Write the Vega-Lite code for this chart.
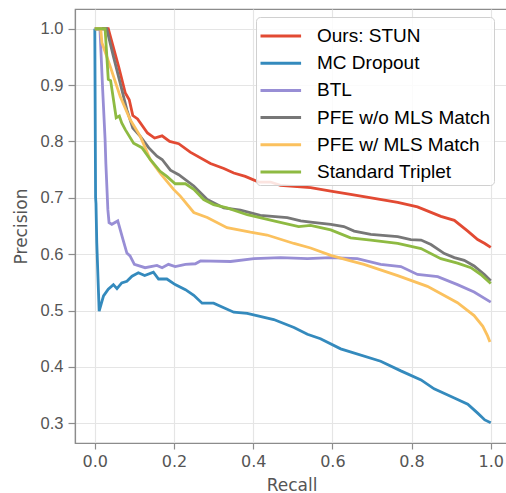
{
  "$schema": "https://vega.github.io/schema/vega-lite/v6.json",
  "autosize": {"type": "none"},
  "padding": {"left": 75, "top": 9, "right": 0, "bottom": 50},
  "width": 433,
  "height": 434,
  "background": "white",
  "config": {
    "view": {"stroke": "#8c8c8c", "strokeWidth": 1.2},
    "axis": {
      "gridColor": "#e5e5e5", "gridWidth": 1.2,
      "domainColor": "#8c8c8c", "domainWidth": 1.2,
      "tickColor": "#8c8c8c", "tickSize": 6, "tickWidth": 1.2,
      "labelColor": "#555555", "titleColor": "#555555",
      "titleFontWeight": "normal"
    }
  },
  "data": {"values": [
    {"s":"Ours: STUN","r":0,"p":1.0},{"s":"Ours: STUN","r":0.034,"p":1.0},{"s":"Ours: STUN","r":0.060,"p":0.933},{"s":"Ours: STUN","r":0.077,"p":0.886},{"s":"Ours: STUN","r":0.087,"p":0.874},{"s":"Ours: STUN","r":0.096,"p":0.846},{"s":"Ours: STUN","r":0.108,"p":0.840},{"s":"Ours: STUN","r":0.133,"p":0.815},{"s":"Ours: STUN","r":0.151,"p":0.806},{"s":"Ours: STUN","r":0.170,"p":0.810},{"s":"Ours: STUN","r":0.189,"p":0.800},{"s":"Ours: STUN","r":0.212,"p":0.796},{"s":"Ours: STUN","r":0.241,"p":0.781},{"s":"Ours: STUN","r":0.292,"p":0.761},{"s":"Ours: STUN","r":0.326,"p":0.752},{"s":"Ours: STUN","r":0.351,"p":0.744},{"s":"Ours: STUN","r":0.380,"p":0.738},{"s":"Ours: STUN","r":0.414,"p":0.728},{"s":"Ours: STUN","r":0.444,"p":0.728},{"s":"Ours: STUN","r":0.469,"p":0.722},{"s":"Ours: STUN","r":0.545,"p":0.718},{"s":"Ours: STUN","r":0.596,"p":0.712},{"s":"Ours: STUN","r":0.646,"p":0.706},{"s":"Ours: STUN","r":0.765,"p":0.692},{"s":"Ours: STUN","r":0.815,"p":0.684},{"s":"Ours: STUN","r":0.874,"p":0.667},{"s":"Ours: STUN","r":0.908,"p":0.660},{"s":"Ours: STUN","r":0.942,"p":0.641},{"s":"Ours: STUN","r":0.967,"p":0.626},{"s":"Ours: STUN","r":0.985,"p":0.619},{"s":"Ours: STUN","r":1.0,"p":0.612},
    {"s":"MC Dropout","r":0,"p":1.0},{"s":"MC Dropout","r":0.002,"p":0.70},{"s":"MC Dropout","r":0.003,"p":0.69},{"s":"MC Dropout","r":0.005,"p":0.62},{"s":"MC Dropout","r":0.011,"p":0.499},{"s":"MC Dropout","r":0.022,"p":0.526},{"s":"MC Dropout","r":0.034,"p":0.538},{"s":"MC Dropout","r":0.047,"p":0.546},{"s":"MC Dropout","r":0.056,"p":0.539},{"s":"MC Dropout","r":0.068,"p":0.549},{"s":"MC Dropout","r":0.081,"p":0.552},{"s":"MC Dropout","r":0.094,"p":0.561},{"s":"MC Dropout","r":0.110,"p":0.567},{"s":"MC Dropout","r":0.126,"p":0.562},{"s":"MC Dropout","r":0.148,"p":0.568},{"s":"MC Dropout","r":0.161,"p":0.556},{"s":"MC Dropout","r":0.182,"p":0.556},{"s":"MC Dropout","r":0.203,"p":0.546},{"s":"MC Dropout","r":0.229,"p":0.537},{"s":"MC Dropout","r":0.250,"p":0.527},{"s":"MC Dropout","r":0.271,"p":0.513},{"s":"MC Dropout","r":0.300,"p":0.513},{"s":"MC Dropout","r":0.351,"p":0.497},{"s":"MC Dropout","r":0.385,"p":0.495},{"s":"MC Dropout","r":0.452,"p":0.484},{"s":"MC Dropout","r":0.503,"p":0.470},{"s":"MC Dropout","r":0.537,"p":0.458},{"s":"MC Dropout","r":0.570,"p":0.450},{"s":"MC Dropout","r":0.621,"p":0.432},{"s":"MC Dropout","r":0.722,"p":0.410},{"s":"MC Dropout","r":0.773,"p":0.393},{"s":"MC Dropout","r":0.824,"p":0.377},{"s":"MC Dropout","r":0.857,"p":0.361},{"s":"MC Dropout","r":0.908,"p":0.345},{"s":"MC Dropout","r":0.942,"p":0.334},{"s":"MC Dropout","r":0.967,"p":0.318},{"s":"MC Dropout","r":0.985,"p":0.306},{"s":"MC Dropout","r":1.0,"p":0.301},
    {"s":"BTL","r":0,"p":1.0},{"s":"BTL","r":0.013,"p":1.0},{"s":"BTL","r":0.020,"p":0.89},{"s":"BTL","r":0.026,"p":0.803},{"s":"BTL","r":0.028,"p":0.76},{"s":"BTL","r":0.033,"p":0.679},{"s":"BTL","r":0.036,"p":0.656},{"s":"BTL","r":0.043,"p":0.653},{"s":"BTL","r":0.058,"p":0.659},{"s":"BTL","r":0.070,"p":0.629},{"s":"BTL","r":0.081,"p":0.602},{"s":"BTL","r":0.089,"p":0.597},{"s":"BTL","r":0.100,"p":0.582},{"s":"BTL","r":0.127,"p":0.576},{"s":"BTL","r":0.157,"p":0.580},{"s":"BTL","r":0.170,"p":0.576},{"s":"BTL","r":0.186,"p":0.582},{"s":"BTL","r":0.203,"p":0.578},{"s":"BTL","r":0.229,"p":0.582},{"s":"BTL","r":0.254,"p":0.583},{"s":"BTL","r":0.267,"p":0.588},{"s":"BTL","r":0.343,"p":0.587},{"s":"BTL","r":0.402,"p":0.592},{"s":"BTL","r":0.469,"p":0.594},{"s":"BTL","r":0.537,"p":0.592},{"s":"BTL","r":0.596,"p":0.594},{"s":"BTL","r":0.663,"p":0.592},{"s":"BTL","r":0.722,"p":0.582},{"s":"BTL","r":0.773,"p":0.578},{"s":"BTL","r":0.815,"p":0.564},{"s":"BTL","r":0.866,"p":0.560},{"s":"BTL","r":0.916,"p":0.546},{"s":"BTL","r":0.958,"p":0.533},{"s":"BTL","r":1.0,"p":0.515},
    {"s":"PFE w/o MLS Match","r":0,"p":1.0},{"s":"PFE w/o MLS Match","r":0.030,"p":1.0},{"s":"PFE w/o MLS Match","r":0.047,"p":0.951},{"s":"PFE w/o MLS Match","r":0.064,"p":0.904},{"s":"PFE w/o MLS Match","r":0.081,"p":0.856},{"s":"PFE w/o MLS Match","r":0.096,"p":0.824},{"s":"PFE w/o MLS Match","r":0.115,"p":0.809},{"s":"PFE w/o MLS Match","r":0.136,"p":0.789},{"s":"PFE w/o MLS Match","r":0.157,"p":0.774},{"s":"PFE w/o MLS Match","r":0.170,"p":0.768},{"s":"PFE w/o MLS Match","r":0.191,"p":0.749},{"s":"PFE w/o MLS Match","r":0.212,"p":0.741},{"s":"PFE w/o MLS Match","r":0.250,"p":0.721},{"s":"PFE w/o MLS Match","r":0.284,"p":0.697},{"s":"PFE w/o MLS Match","r":0.326,"p":0.682},{"s":"PFE w/o MLS Match","r":0.368,"p":0.678},{"s":"PFE w/o MLS Match","r":0.418,"p":0.669},{"s":"PFE w/o MLS Match","r":0.486,"p":0.665},{"s":"PFE w/o MLS Match","r":0.520,"p":0.659},{"s":"PFE w/o MLS Match","r":0.545,"p":0.657},{"s":"PFE w/o MLS Match","r":0.596,"p":0.653},{"s":"PFE w/o MLS Match","r":0.629,"p":0.649},{"s":"PFE w/o MLS Match","r":0.655,"p":0.641},{"s":"PFE w/o MLS Match","r":0.697,"p":0.635},{"s":"PFE w/o MLS Match","r":0.765,"p":0.631},{"s":"PFE w/o MLS Match","r":0.798,"p":0.626},{"s":"PFE w/o MLS Match","r":0.824,"p":0.625},{"s":"PFE w/o MLS Match","r":0.849,"p":0.617},{"s":"PFE w/o MLS Match","r":0.883,"p":0.601},{"s":"PFE w/o MLS Match","r":0.908,"p":0.594},{"s":"PFE w/o MLS Match","r":0.933,"p":0.589},{"s":"PFE w/o MLS Match","r":0.958,"p":0.579},{"s":"PFE w/o MLS Match","r":0.984,"p":0.564},{"s":"PFE w/o MLS Match","r":1.0,"p":0.553},
    {"s":"PFE w/ MLS Match","r":0,"p":1.0},{"s":"PFE w/ MLS Match","r":0.015,"p":1.0},{"s":"PFE w/ MLS Match","r":0.018,"p":0.975},{"s":"PFE w/ MLS Match","r":0.039,"p":0.933},{"s":"PFE w/ MLS Match","r":0.064,"p":0.880},{"s":"PFE w/ MLS Match","r":0.089,"p":0.839},{"s":"PFE w/ MLS Match","r":0.115,"p":0.809},{"s":"PFE w/ MLS Match","r":0.140,"p":0.768},{"s":"PFE w/ MLS Match","r":0.165,"p":0.744},{"s":"PFE w/ MLS Match","r":0.199,"p":0.715},{"s":"PFE w/ MLS Match","r":0.216,"p":0.703},{"s":"PFE w/ MLS Match","r":0.250,"p":0.674},{"s":"PFE w/ MLS Match","r":0.284,"p":0.665},{"s":"PFE w/ MLS Match","r":0.334,"p":0.647},{"s":"PFE w/ MLS Match","r":0.393,"p":0.639},{"s":"PFE w/ MLS Match","r":0.435,"p":0.634},{"s":"PFE w/ MLS Match","r":0.503,"p":0.619},{"s":"PFE w/ MLS Match","r":0.545,"p":0.611},{"s":"PFE w/ MLS Match","r":0.596,"p":0.598},{"s":"PFE w/ MLS Match","r":0.646,"p":0.588},{"s":"PFE w/ MLS Match","r":0.680,"p":0.582},{"s":"PFE w/ MLS Match","r":0.765,"p":0.562},{"s":"PFE w/ MLS Match","r":0.840,"p":0.543},{"s":"PFE w/ MLS Match","r":0.916,"p":0.514},{"s":"PFE w/ MLS Match","r":0.958,"p":0.491},{"s":"PFE w/ MLS Match","r":0.980,"p":0.472},{"s":"PFE w/ MLS Match","r":0.992,"p":0.455},{"s":"PFE w/ MLS Match","r":0.998,"p":0.444},
    {"s":"Standard Triplet","r":0,"p":1.0},{"s":"Standard Triplet","r":0.026,"p":1.0},{"s":"Standard Triplet","r":0.034,"p":0.910},{"s":"Standard Triplet","r":0.040,"p":0.908},{"s":"Standard Triplet","r":0.054,"p":0.842},{"s":"Standard Triplet","r":0.062,"p":0.845},{"s":"Standard Triplet","r":0.068,"p":0.833},{"s":"Standard Triplet","r":0.077,"p":0.821},{"s":"Standard Triplet","r":0.098,"p":0.797},{"s":"Standard Triplet","r":0.119,"p":0.789},{"s":"Standard Triplet","r":0.140,"p":0.768},{"s":"Standard Triplet","r":0.165,"p":0.747},{"s":"Standard Triplet","r":0.182,"p":0.738},{"s":"Standard Triplet","r":0.203,"p":0.725},{"s":"Standard Triplet","r":0.229,"p":0.725},{"s":"Standard Triplet","r":0.250,"p":0.715},{"s":"Standard Triplet","r":0.275,"p":0.697},{"s":"Standard Triplet","r":0.300,"p":0.688},{"s":"Standard Triplet","r":0.334,"p":0.682},{"s":"Standard Triplet","r":0.385,"p":0.670},{"s":"Standard Triplet","r":0.452,"p":0.659},{"s":"Standard Triplet","r":0.515,"p":0.649},{"s":"Standard Triplet","r":0.545,"p":0.651},{"s":"Standard Triplet","r":0.596,"p":0.643},{"s":"Standard Triplet","r":0.646,"p":0.629},{"s":"Standard Triplet","r":0.697,"p":0.625},{"s":"Standard Triplet","r":0.765,"p":0.619},{"s":"Standard Triplet","r":0.824,"p":0.610},{"s":"Standard Triplet","r":0.874,"p":0.592},{"s":"Standard Triplet","r":0.916,"p":0.584},{"s":"Standard Triplet","r":0.950,"p":0.576},{"s":"Standard Triplet","r":0.975,"p":0.564},{"s":"Standard Triplet","r":1.0,"p":0.548}
  ]},
  "mark": {"type": "line", "strokeWidth": 2.8, "clip": true},
  "encoding": {
    "x": {
      "field": "r", "type": "quantitative",
      "scale": {"domain": [-0.05, 1.0436], "nice": false, "zero": false},
      "axis": {
        "title": "Recall", "values": [0, 0.2, 0.4, 0.6, 0.8, 1.0], "format": ".1f",
        "labelFont": "DejaVu Sans", "labelFontSize": 16, "labelPadding": 4,
        "titleFont": "DejaVu Sans", "titleFontSize": 17, "titlePadding": 8
      }
    },
    "y": {
      "field": "p", "type": "quantitative",
      "scale": {"domain": [0.265, 1.035], "nice": false, "zero": false},
      "axis": {
        "title": "Precision", "values": [0.3, 0.4, 0.5, 0.6, 0.7, 0.8, 0.9, 1.0], "format": ".1f",
        "labelFont": "Liberation Sans", "labelFontSize": 16.5, "labelPadding": 5, "tickSize": 7,
        "titleFont": "DejaVu Sans", "titleFontSize": 17, "titlePadding": 10
      }
    },
    "color": {
      "field": "s", "type": "nominal",
      "scale": {
        "domain": ["Ours: STUN", "MC Dropout", "BTL", "PFE w/o MLS Match", "PFE w/ MLS Match", "Standard Triplet"],
        "range": ["#E24A33", "#348ABD", "#988ED5", "#777777", "#FBC15E", "#8EBA42"]
      },
      "legend": {
        "title": null, "orient": "none", "legendX": 181, "legendY": 8,
        "symbolType": "M-1.0,0H1.8", "symbolSize": 840, "symbolStrokeWidth": 3,
        "labelFont": "Liberation Sans", "labelFontSize": 19, "labelColor": "#000000",
        "labelLimit": 400, "labelOffset": 26, "rowPadding": 1.2,
        "padding": 3, "strokeColor": "#d0d0d0", "fillColor": "rgba(255,255,255,0.85)", "cornerRadius": 4
      }
    }
  }
}
